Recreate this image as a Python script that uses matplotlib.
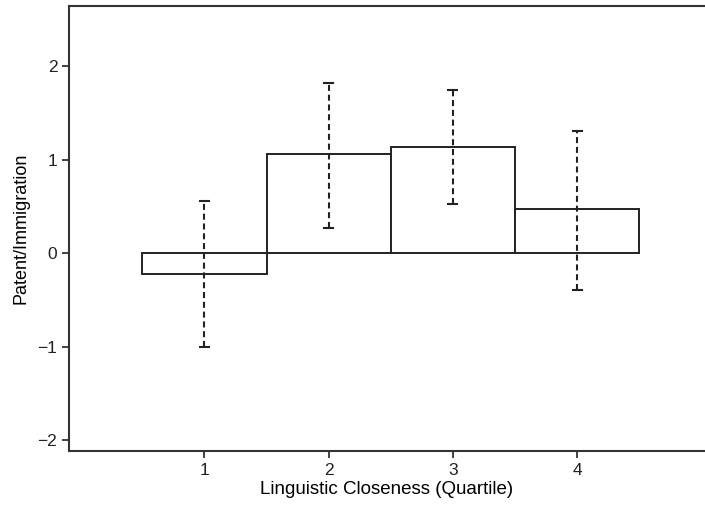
import matplotlib
matplotlib.use('Agg')
import matplotlib.pyplot as plt
import numpy as np

plt.rcParams['font.family'] = ['Liberation Sans', 'DejaVu Sans']

quartiles = [1, 2, 3, 4]
estimate = [-0.22, 1.06, 1.14, 0.47]
ci_low = [-1.00, 0.27, 0.53, -0.39]
ci_high = [0.56, 1.82, 1.75, 1.31]

fig = plt.figure(figsize=(7.05, 5.07), dpi=100)
ax = fig.add_axes([0.098, 0.110, 0.902, 0.879])

ax.bar(quartiles, estimate, width=1.0, color='white', edgecolor='#222222', linewidth=1.4)

# dashed intervals with short caps
for q, lo, hi in zip(quartiles, ci_low, ci_high):
    ax.plot([q, q], [lo, hi], color='#222222', lw=1.5, linestyle=(0, (2.9, 1.8)))
    ax.plot([q - 0.036, q + 0.036], [lo, lo], color='#222222', lw=1.5)
    ax.plot([q - 0.036, q + 0.036], [hi, hi], color='#222222', lw=1.5)

ax.set_xlim(-0.09, 5.03)
ax.set_ylim(-2.12, 2.65)
ax.set_xticks(quartiles)
ax.set_yticks([-2, -1, 0, 1, 2])
ax.set_yticklabels(['\u22122', '\u22121', '0', '1', '2'])
ax.tick_params(direction='out', length=5, width=1.2, labelsize=12.5, colors='#222222')
for s in ['left', 'top', 'bottom']:
    ax.spines[s].set_linewidth(1.5)
    ax.spines[s].set_color('#333333')
ax.spines['right'].set_visible(False)

ax.set_xlabel('Linguistic Closeness (Quartile)', size=13.5, labelpad=2)
ax.set_ylabel('Patent/Immigration', size=13, labelpad=6)

fig.savefig('out.png', dpi=100)
